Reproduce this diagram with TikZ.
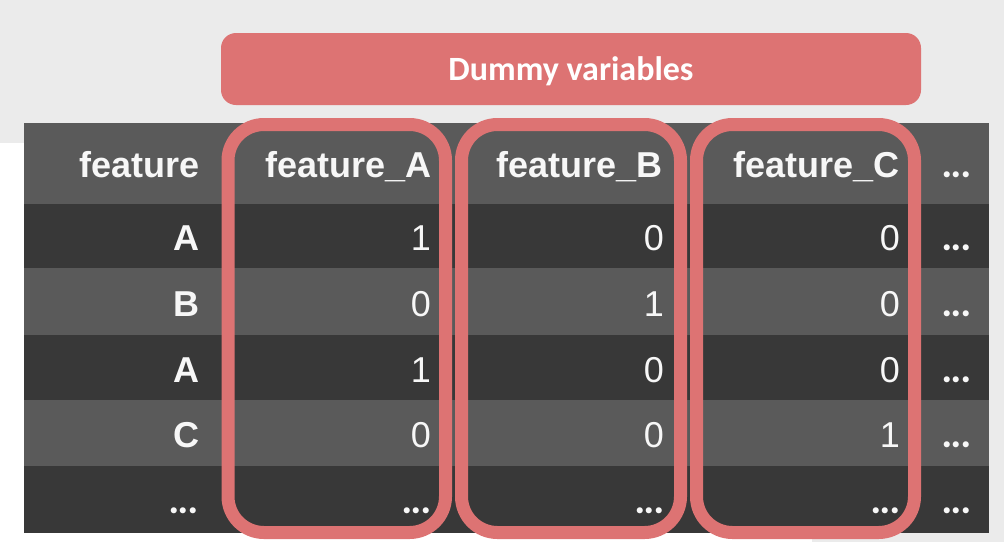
\documentclass[tikz,border=0pt]{standalone}
\usepackage{fontspec}
\setmainfont{Liberation Sans}
\newfontfamily\carlitofont{Carlito}
\newfontfamily\dotfont{Lato}
\definecolor{bggray}{HTML}{EBEBEB}
\definecolor{hdrgray}{HTML}{5A5A5A}
\definecolor{drkgray}{HTML}{383838}
\definecolor{midgray}{HTML}{5A5A5A}
\definecolor{redc}{HTML}{DD7373}
\definecolor{txtc}{HTML}{F7F7F7}
\begin{document}
\begin{tikzpicture}[x=1pt,y=-1pt,
  cell/.style={anchor=base east, inner sep=0pt, text=txtc, font=\fontsize{36}{40}\selectfont},
  bcell/.style={anchor=base east, inner sep=0pt, text=txtc, font=\fontsize{36}{40}\selectfont\bfseries},
  dcell/.style={anchor=base east, inner sep=0pt, text=txtc, font=\dotfont\fontsize{40}{40}\selectfont\bfseries},
  colbox/.style={draw=redc, line width=13pt, rounded corners=36pt},
  titlebox/.style={fill=redc, rounded corners=15pt}]
\useasboundingbox (0,0) rectangle (1004,542);
% background
\fill[bggray] (0,0) rectangle (1004,542);
\fill[white] (0,143) rectangle (812,542);
% table rows
\fill[hdrgray] (24,123) rectangle (989,204);
\fill[drkgray] (24,204) rectangle (989,268);
\fill[midgray] (24,268) rectangle (989,335);
\fill[drkgray] (24,335) rectangle (989,400);
\fill[midgray] (24,400) rectangle (989,466);
\fill[drkgray] (24,466) rectangle (989,533);
% title box
\fill[titlebox] (221,33) rectangle (921,105);
\node[anchor=base, inner sep=0pt, text=white, font=\carlitofont\bfseries\fontsize{34}{40}\selectfont] (dv) at (571,80) {Dummy variables};
% header
\node[bcell] (h0) at (200,177) {feature};
\node[bcell] (h1) at (432,177) {feature\_A};
\node[bcell] (h2) at (663,177) {feature\_B};
\node[bcell] (h3) at (900,177) {feature\_C};
\node[dcell] (h4) at (971,177) {...};
% row 1
\node[bcell] (r1c0) at (200,250) {A};
\node[cell] (r1c1) at (431,250) {1};
\node[cell] (r1c2) at (664,250) {0};
\node[cell] (r1c3) at (900,250) {0};
\node[dcell] (r1c4) at (971,250) {...};
% row 2
\node[bcell] (r2c0) at (200,316) {B};
\node[cell] (r2c1) at (431,316) {0};
\node[cell] (r2c2) at (664,316) {1};
\node[cell] (r2c3) at (900,316) {0};
\node[dcell] (r2c4) at (971,316) {...};
% row 3
\node[bcell] (r3c0) at (200,382) {A};
\node[cell] (r3c1) at (431,382) {1};
\node[cell] (r3c2) at (664,382) {0};
\node[cell] (r3c3) at (900,382) {0};
\node[dcell] (r3c4) at (971,382) {...};
% row 4
\node[bcell] (r4c0) at (200,447) {C};
\node[cell] (r4c1) at (431,447) {0};
\node[cell] (r4c2) at (664,447) {0};
\node[cell] (r4c3) at (900,447) {1};
\node[dcell] (r4c4) at (971,447) {...};
% row 5
\node[dcell] (r5c0) at (198,513) {...};
\node[dcell] (r5c1) at (431,513) {...};
\node[dcell] (r5c2) at (664,513) {...};
\node[dcell] (r5c3) at (900,513) {...};
\node[dcell] (r5c4) at (971,513) {...};
% column highlight boxes
\draw[colbox] (228,124.5) rectangle (445.5,532.5);
\draw[colbox] (461.5,124.5) rectangle (680.5,532.5);
\draw[colbox] (696.5,124.5) rectangle (914.5,532.5);
\end{tikzpicture}
\end{document}
